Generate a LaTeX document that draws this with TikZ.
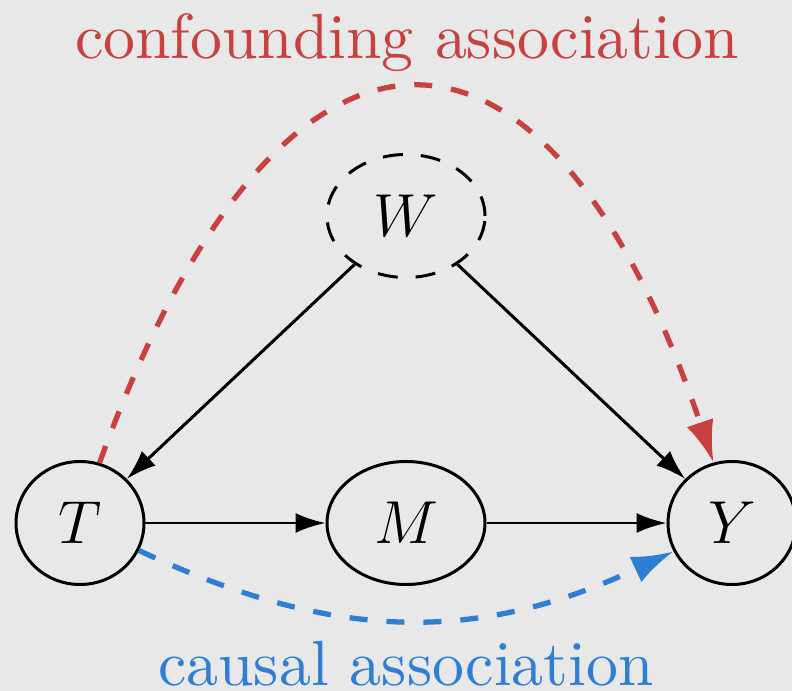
\documentclass[tikz,border=0pt]{standalone}
\usetikzlibrary{arrows.meta,shapes.geometric,positioning}
\definecolor{bggray}{HTML}{E8E8E8}
\definecolor{confred}{HTML}{C7423F}
\definecolor{causblue}{HTML}{2E7ED5}
\tikzset{
  var/.style={ellipse, draw=black, line width=0.85pt, minimum width=1.28cm, minimum height=1.23cm, inner sep=0pt},
  widevar/.style={var, minimum width=1.58cm},
  latentvar/.style={widevar, dash pattern=on 2mm off 1.8mm},
  edge/.style={-{Latex[length=3mm,width=2mm]}, line width=0.85pt},
  assoc/.style={-{Latex[length=4.2mm,width=2.8mm]}, line width=1.5pt, dash pattern=on 1.8mm off 1.9mm},
  lbl/.style={anchor=base, font=\normalsize}
}
\newcommand{\biglbl}[1]{\scalebox{1.815}{#1}}

\begin{document}
\begin{tikzpicture}[every node/.style={font=\fontsize{18}{22}\selectfont}]
  \fill[bggray] (-0.80,-1.68) rectangle (7.12,5.23);
  \useasboundingbox (-0.80,-1.68) rectangle (7.12,5.23);
  % variables
  \node[var] (T) at (0,0) {$T$};
  \node[widevar] (M) at (3.26,0) {$M$};
  \node[var] (Y) at (6.52,0) {$Y$};
  \node[latentvar] (W) at (3.26,3.07) {$W$};
  % causal edges
  \draw[edge] (T) -- (M);
  \draw[edge] (M) -- (Y);
  \draw[edge] (W) -- (T);
  \draw[edge] (W) -- (Y);
  % association paths
  \draw[assoc, confred] (T.72) .. controls +(1.80,4.98) and +(-1.68,4.97) .. (Y.107);
  \draw[assoc, causblue] (T.-25) .. controls +(1.96,-0.92) and +(-1.96,-0.92) .. (Y.206);
  \node[lbl, text=confred] (conf) at (3.27,4.64) {\biglbl{confounding association}};
  \node[lbl, text=causblue] (caus) at (3.26,-1.62) {\biglbl{causal association}};
\end{tikzpicture}
\end{document}
